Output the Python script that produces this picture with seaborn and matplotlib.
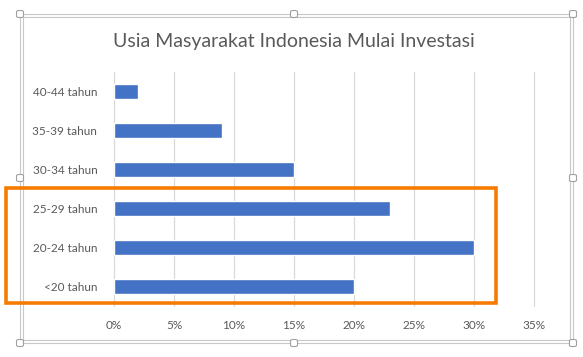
import matplotlib
matplotlib.use("Agg")
import matplotlib.pyplot as plt
import seaborn as sns
import pandas as pd
from matplotlib.patches import Rectangle, FancyBboxPatch

categories = ["40-44 tahun", "35-39 tahun", "30-34 tahun", "25-29 tahun", "20-24 tahun", "<20 tahun"]
values = [2, 9, 15, 23, 30, 20]
xticks = [0, 5, 10, 15, 20, 25, 30, 35]
xtick_labels = ["0%", "5%", "10%", "15%", "20%", "25%", "30%", "35%"]
title = "Usia Masyarakat Indonesia Mulai Investasi"

df = pd.DataFrame({"kategori": categories, "nilai": values})

sns.set_theme(style="white")
plt.rcParams["font.family"] = ["Lato", "DejaVu Sans"]

W, H = 583, 357
fig = plt.figure(figsize=(W / 100, H / 100), dpi=100)
fig.patch.set_facecolor("white")

def fx(x):
    return x / W

def fy(y):
    return 1 - y / H

ax = fig.add_axes([fx(114), fy(306), fx(534) - fx(114), fy(72) - fy(306)])
sns.barplot(data=df, x="nilai", y="kategori", order=categories, color="#4472C4",
            width=0.36, saturation=1, ax=ax, zorder=3)
ax.set_xlim(0, 35)
ax.set_ylim(5.5, -0.5)
ax.set_xticks(xticks)
ax.set_xticklabels(xtick_labels)
ax.set_xlabel("")
ax.set_ylabel("")
for s in ax.spines.values():
    s.set_visible(False)
ax.grid(axis="x", color="#d9d9d9", linewidth=0.9, zorder=0)
ax.grid(axis="y", visible=False)
for gl in ax.get_xgridlines():
    gl.set_clip_on(False)
ax.tick_params(axis="both", length=0, labelsize=8.5, labelcolor="#595959")
ax.tick_params(axis="x", pad=10)
ax.tick_params(axis="y", pad=12)

fig.text(fx(294), fy(42), title, ha="center", va="center", fontsize=14, color="#595959")

# chart frame (selection outline)
for (x0, y0, x1, y1) in [(20, 14, 573, 343), (23, 17, 570, 340)]:
    fig.patches.append(Rectangle((fx(x0), fy(y1)), fx(x1) - fx(x0), fy(y0) - fy(y1),
                                 transform=fig.transFigure, fill=False,
                                 edgecolor="#c8c8c8", linewidth=0.8))
# handles
for hx, hy in [(20, 14), (294, 14), (573, 14), (20, 178), (573, 178), (20, 343), (294, 343), (573, 343)]:
    fig.patches.append(FancyBboxPatch((fx(hx - 3.5), fy(hy + 3.5)), fx(7), 7 / H,
                                      boxstyle="round,pad=0,rounding_size=0.004",
                                      transform=fig.transFigure, facecolor="white",
                                      edgecolor="#a0a0a0", linewidth=0.8, zorder=5))
# orange highlight box
fig.patches.append(Rectangle((fx(6), fy(303)), fx(496) - fx(6), fy(188) - fy(303),
                             transform=fig.transFigure, fill=False,
                             edgecolor="#F57C00", linewidth=2.6, zorder=6))

fig.savefig("out.png", dpi=100)
